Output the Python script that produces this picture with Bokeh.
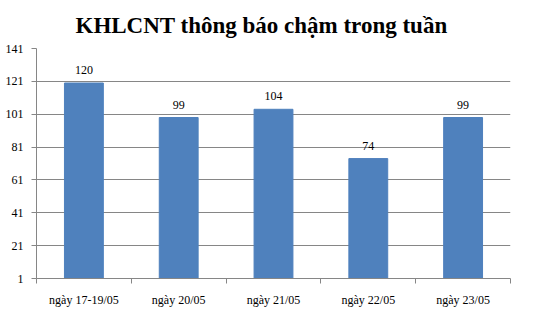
from bokeh.plotting import figure
from bokeh.models import ColumnDataSource, FixedTicker, LabelSet, Range1d, Title
from bokeh.embed import file_html
from bokeh.resources import INLINE

categories = ["ngày 17-19/05", "ngày 20/05", "ngày 21/05", "ngày 22/05", "ngày 23/05"]
values = [120, 99, 104, 74, 99]
y_ticks = [1, 21, 41, 61, 81, 101, 121, 141]

xs = [i + 0.5 for i in range(len(categories))]
source = ColumnDataSource(dict(x=xs, top=values, label=[str(v) for v in values]))

p = figure(width=543, height=309, output_backend="svg", toolbar_location=None,
           x_range=Range1d(0, len(categories)), y_range=Range1d(1, 141),
           min_border_left=36, min_border_right=33, min_border_top=47, min_border_bottom=30)
p.outline_line_color = None
p.background_fill_color = "white"
p.border_fill_color = "white"

t = Title(text="KHLCNT thông báo chậm trong tuần", align="left",
          text_font="Liberation Serif", text_font_size="23px", text_font_style="bold",
          text_color="black", offset=39, standoff=21, text_line_height=0.9)
p.add_layout(t, "above")

p.vbar(x="x", top="top", bottom=1, width=0.41, source=source, color="#4F81BD")

labels = LabelSet(x="x", y="top", text="label", source=source, y_offset=9,
                  text_align="center", text_baseline="alphabetic",
                  text_font="Liberation Sans", text_font_size="12px", text_color="black")
p.add_layout(labels)

# y axis
p.yaxis.ticker = FixedTicker(ticks=y_ticks, minor_ticks=[])
p.yaxis.axis_line_color = "#868686"
p.yaxis.major_tick_line_color = "#868686"
p.yaxis.major_tick_out = 5
p.yaxis.major_tick_in = 0
p.yaxis.major_label_text_font = "Liberation Serif"
p.yaxis.major_label_text_font_size = "12px"
p.yaxis.major_label_text_color = "black"
p.yaxis.major_label_standoff = 8

# x axis: labels at centers, tick marks at boundaries
p.xaxis.ticker = FixedTicker(ticks=xs, minor_ticks=list(range(len(categories) + 1)))
p.xaxis.major_label_overrides = {x: c for x, c in zip(xs, categories)}
p.xaxis.major_tick_line_color = None
p.xaxis.minor_tick_line_color = "#868686"
p.xaxis.minor_tick_out = 5
p.xaxis.minor_tick_in = 0
p.xaxis.axis_line_color = "#868686"
p.xaxis.major_label_text_font = "Liberation Serif"
p.xaxis.major_label_text_font_size = "12px"
p.xaxis.major_label_text_color = "black"
p.xaxis.major_label_standoff = 8

p.xgrid.grid_line_color = None
p.ygrid.ticker = FixedTicker(ticks=y_ticks)
p.ygrid.grid_line_color = "#868686"

open("out.html", "w").write(file_html(p, INLINE))
